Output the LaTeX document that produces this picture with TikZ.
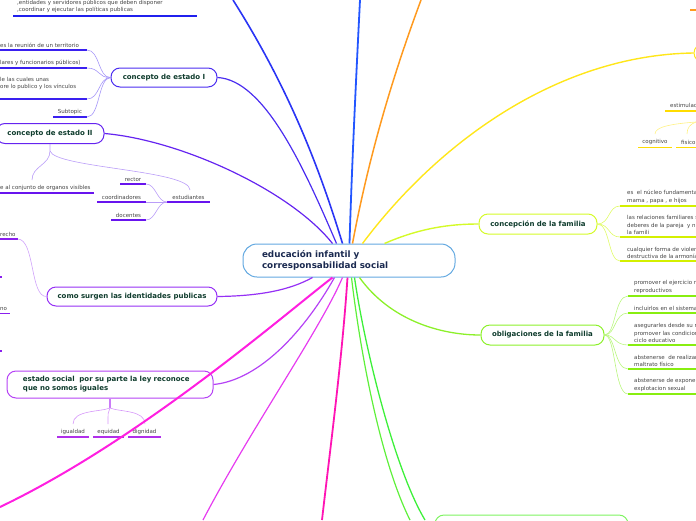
\documentclass[tikz,border=0pt]{standalone}
\usepackage{fontspec}
\setmainfont{DejaVu Sans}
\definecolor{txt}{HTML}{444444}
\definecolor{ntxt}{HTML}{0E3B2C}
\definecolor{ctxt}{HTML}{1B2A50}
\definecolor{cblue}{HTML}{62A8E0}
\definecolor{bla}{HTML}{2A35F5}
\definecolor{blb}{HTML}{2356FF}
\definecolor{orb}{HTML}{FF9A1F}
\definecolor{yeb}{HTML}{FFE61A}
\definecolor{ygb}{HTML}{D4FA28}
\definecolor{gra}{HTML}{5EF03A}
\definecolor{grb}{HTML}{3DF03A}
\definecolor{grc}{HTML}{8CF02A}
\definecolor{pua}{HTML}{4B2DF0}
\definecolor{pub}{HTML}{6524F0}
\definecolor{puc}{HTML}{9530F5}
\definecolor{pud}{HTML}{B542F5}
\definecolor{mga}{HTML}{FF1FE0}
\definecolor{mgb}{HTML}{E63CF0}
\definecolor{pkb}{HTML}{FF14B4}
\definecolor{ulz}{HTML}{2020EE}
\definecolor{ula}{HTML}{3A20F0}
\definecolor{ulb}{HTML}{6814EE}
\definecolor{ulc}{HTML}{8A1FEE}
\definecolor{uld}{HTML}{B030EA}
\definecolor{ule}{HTML}{D4F000}
\definecolor{ulf}{HTML}{88EE10}
\definecolor{ulg}{HTML}{FFDC00}
\begin{document}
\begin{tikzpicture}[x=1pt,y=-1pt,
  every node/.style={font=\fontsize{5.5}{7.2}\selectfont, text=txt},
  leaf/.style={anchor=south west, inner sep=0pt, align=left},
  cleaf/.style={anchor=south, inner sep=0pt, align=center},
  topic/.style={draw, rounded corners=9pt, line width=1pt, font=\fontsize{7}{9}\selectfont\bfseries, text=ntxt, inner sep=0pt, align=center},
  cnode/.style={draw=cblue, line width=1pt, rounded corners=14pt, minimum height=33pt, text width=174pt, inner xsep=19pt, inner ysep=0pt, align=left, font=\fontsize{8.8}{11}\selectfont\bfseries, text=ctxt},
  ul/.style={line width=1.6pt},
  fan/.style={line width=0.6pt},
  br/.style={line width=1.2pt}]
\useasboundingbox (0,0) rectangle (696,520);

% main nodes
\node[cnode] (c) at (349,260.5) {educación infantil y\\corresponsabilidad social};
\node[topic, draw=pua, minimum width=106pt, minimum height=19pt] (n1) at (164,77.5) {concepto de estado I};
\node[topic, draw=pub, minimum width=108pt, minimum height=20pt] (n2) at (50,133.5) {concepto de estado II};
\node[topic, draw=puc, minimum width=170pt, minimum height=19pt] (n3) at (132,296.5) {como surgen las identidades publicas};
\node[topic, draw=pud, minimum height=27pt, text width=174pt, inner xsep=16pt, align=left] (n4) at (110,384.5) {estado social\ \ por su parte la ley reconoce\\que no somos iguales};
\node[topic, draw=ygb, minimum width=118pt, minimum height=20pt] (n5) at (538,224) {concepción de la familia};
\node[topic, draw=grc, minimum width=123pt, minimum height=20pt] (n6) at (542.5,335) {obligaciones de la familia};
\node[topic, draw=gra!80, minimum width=193pt, minimum height=24pt] (n7) at (531.5,527) {};
\node[topic, draw=yeb, minimum width=60pt, minimum height=18pt] (n8) at (724,53) {};

% off-picture ends
\coordinate (t1) at (233,0);
\coordinate (t2) at (360,0);
\coordinate (t3) at (421,0);
\coordinate (b1) at (0,507);
\coordinate (b2) at (203,520);
\coordinate (b3) at (322,520);
\coordinate (b4) at (410,520);
\coordinate (b5) at (425,520);

% main branches
\draw[br, bla, line width=1.6pt] ([xshift=100pt]c.north west) .. controls (320,170) and (290,90) .. (t1);
\draw[br, pua] (n1.east) .. controls (265,80) and (305,170) .. ([xshift=94pt]c.north west);
\draw[br, pub] (n2.east) .. controls (180,140) and (290,190) .. ([xshift=90pt]c.north west);
\draw[br, blb, line width=1.8pt] ([xshift=107pt]c.north west) .. controls (352,160) and (357,60) .. (t2);
\draw[br, orb, line width=1.5pt] ([xshift=110pt]c.north west) .. controls (370,150) and (395,70) .. (t3);
\draw[br, yeb, line width=1.4pt] ([xshift=120pt]c.north west) .. controls (440,140) and (560,55) .. (n8.west);
\draw[br, ygb, line width=1.4pt] ([xshift=142pt]c.north west) .. controls (420,228) and (450,224) .. (n5.west);
\draw[br, puc] (n3.east) .. controls (260,296) and (290,290) .. ([xshift=70pt]c.south west);
\draw[br, pud] (n4.east) .. controls (260,380) and (305,330) .. ([xshift=92pt]c.south west);
\draw[br, mgb] ([xshift=100pt]c.south west) .. controls (320,330) and (250,430) .. (b2);
\draw[br, pkb, line width=1.8pt] ([xshift=105pt]c.south west) .. controls (342,360) and (330,450) .. (b3);
\draw[br, gra] ([xshift=109pt]c.south west) .. controls (360,350) and (380,460) .. (b4);
\draw[br, grb, line width=1.3pt] ([xshift=112pt]c.south west) .. controls (365,350) and (395,470) .. (b5);
\draw[br, grc, line width=1.3pt] ([xshift=117pt]c.south west) .. controls (390,320) and (440,335) .. (n6.west);

% top-left leaf
\node[leaf] (z1) at (17,13.2) {,entidades y servidores públicos que deben disponer\\,coordinar y ejecutar las políticas publicas};
\draw[ul, ulz] (13,15.8) -- (197,15.8);

% concepto de estado I children
\node[leaf] (a1) at (0,47.5) {es la reunión de un territorio};
\node[leaf] (a2) at (0,65.5) {lares y funcionarios públicos)};
\node[leaf] (a3) at (0,90) {le las cuales unas\\ore lo publico y los vínculos};
\node[cleaf] (a4) at (70,114.5) {Subtopic};
\coordinate (a1e) at (87,50);
\coordinate (a2e) at (87,68);
\coordinate (a3e) at (87,99);
\coordinate (a4e) at (87,117);
\draw[ul, ula] (0,50) -- (a1e);
\draw[ul, ula] (0,68) -- (a2e);
\draw[ul, ula] (0,99) -- (a3e);
\draw[ul, ula] (53,117) -- (a4e);
\draw[fan, pua!50] (n1.west) .. controls (98,78) and (100,50) .. (a1e);
\draw[fan, pua!50] (n1.west) .. controls (98,78) and (100,68) .. (a2e);
\draw[fan, pua!50] (n1.west) .. controls (98,78) and (100,99) .. (a3e);
\draw[fan, pua!50] (n1.west) .. controls (98,78) and (100,117) .. (a4e);

% concepto de estado II children
\node[leaf] (e1) at (0,190.5) {e al conjunto de organos visibles};
\draw[ul, ulb] (0,193) -- (94,193);
\node[cleaf] (e2) at (188.5,199.5) {estudiantes};
\coordinate (e2w) at (167,202);
\draw[ul, ulb] (e2w) -- (210,202);
\coordinate (e1t) at (32,180);
\coordinate (e2t) at (190,190);
\coordinate (n2j) at (50,151);
\draw[fan, pub!45] (n2.south) -- (n2j) .. controls (50,165) and (32,166) .. (e1t);
\draw[fan, pub!45] (n2j) .. controls (55,168) and (190,170) .. (e2t);
\node[cleaf] (r1) at (133,181.5) {rector};
\node[cleaf] (r2) at (121.5,199.5) {coordinadores};
\node[cleaf] (r3) at (128.5,217.5) {docentes};
\coordinate (r1e) at (146,184);
\coordinate (r2e) at (146,202);
\coordinate (r3e) at (146,220);
\draw[ul, ulb] (120,184) -- (r1e);
\draw[ul, ulb] (97,202) -- (r2e);
\draw[ul, ulb] (111,220) -- (r3e);
\draw[fan, pub!45] (e2w) .. controls (157,202) and (156,184) .. (r1e);
\draw[fan, pub!45] (e2w) -- (r2e);
\draw[fan, pub!45] (e2w) .. controls (157,202) and (156,220) .. (r3e);

% como surgen children
\node[leaf] (s1) at (0,236.5) {recho};
\coordinate (s1e) at (18,239);
\draw[ul, ulc] (0,239) -- (s1e);
\draw[ul, ulc] (0,277) -- (2,277);
\node[leaf] (s2) at (0,311) {no};
\draw[ul, ulc] (0,313.5) -- (10,313.5);
\draw[ul, ulc] (0,351) -- (2,351);
\draw[fan, puc!45] (n3.west) .. controls (30,297) and (35,240) .. (s1e);

% estado social children
\node[cleaf] (g1) at (73,434.5) {igualdad};
\node[cleaf] (g2) at (108.5,434.5) {equidad};
\node[cleaf] (g3) at (144.5,434.5) {dignidad};
\draw[ul, uld] (57,437) -- (89,437);
\draw[ul, uld] (93,437) -- (124,437);
\draw[ul, uld] (128,437) -- (161,437);
\coordinate (n4j) at (110,408);
\draw[line width=1.2pt, pud!70] (n4.south) -- (n4j);
\draw[fan, pud!55] (n4j) .. controls (100,412) and (73,410) .. (73,424);
\draw[fan, pud!55] (n4j) .. controls (108,412) .. (108,424);
\draw[fan, pud!55] (n4j) .. controls (120,412) and (145,410) .. (145,424);

% concepcion de la familia children
\node[leaf] (f1) at (627,203.5) {es\ \ el núcleo fundamenta\\mama , papa , e hijos};
\node[leaf] (f2) at (627,234.5) {las relaciones familiares s\\deberes de la pareja\ \ y n\\la famili};
\node[leaf] (f3) at (627,258.5) {cualquier forma de violen\\destructiva de la armonía};
\coordinate (f1e) at (620,206);
\coordinate (f2e) at (620,237);
\coordinate (f3e) at (620,261);
\draw[ul, ule] (f1e) -- (696,206);
\draw[ul, ule] (f2e) -- (696,237);
\draw[ul, ule] (f3e) -- (696,261);
\draw[fan, ygb!70] (n5.east) .. controls (610,224) and (608,206) .. (f1e);
\draw[fan, ygb!70] (n5.east) .. controls (610,224) and (608,237) .. (f2e);
\draw[fan, ygb!70] (n5.east) .. controls (610,224) and (608,261) .. (f3e);

% obligaciones de la familia children
\node[leaf] (o1) at (634,293.5) {promover el ejercicio r\\reproductivos};
\node[leaf] (o2) at (634,310.5) {incluirlos en el sistema};
\node[leaf] (o3) at (634,342.5) {asegurarles desde su n\\promover las condicion\\ciclo educativo};
\node[leaf] (o4) at (634,366.5) {abstenerse\ \ de realizar\\maltrato físico};
\node[leaf] (o5) at (634,391.5) {abstenerse de exponer\\explotacion sexual};
\coordinate (o1e) at (628,296);
\coordinate (o2e) at (628,313);
\coordinate (o3e) at (628,345);
\coordinate (o4e) at (628,369);
\coordinate (o5e) at (628,394);
\draw[ul, ulf] (o1e) -- (696,296);
\draw[ul, ulf] (o2e) -- (696,313);
\draw[ul, ulf] (o3e) -- (696,345);
\draw[ul, ulf] (o4e) -- (696,369);
\draw[ul, ulf] (o5e) -- (696,394);
\draw[fan, grc!60] (n6.east) .. controls (616,335) and (614,296) .. (o1e);
\draw[fan, grc!60] (n6.east) .. controls (616,335) and (614,313) .. (o2e);
\draw[fan, grc!60] (n6.east) .. controls (616,335) and (614,345) .. (o3e);
\draw[fan, grc!60] (n6.east) .. controls (616,335) and (614,369) .. (o4e);
\draw[fan, grc!60] (n6.east) .. controls (616,335) and (614,394) .. (o5e);

% estimulacion (right edge)
\node[leaf] (m1) at (670,108) {estimulac};
\draw[ul, ulg] (665,110.7) -- (696,110.7);
\coordinate (mp) at (696,122);
\node[cleaf] (m2) at (655,144.5) {cognitivo};
\node[leaf] (m3) at (681,144.5) {fisico};
\draw[ul, ulg] (638,147.5) -- (672,147.5);
\draw[ul, ulg] (676,147.5) -- (696,147.5);
\draw[fan, yeb!55] (mp) .. controls (670,124) and (655,127) .. (655,134);
\draw[fan, yeb!55] (mp) .. controls (690,124) and (687,128) .. (687,134);

% orange fragment top right
\draw[ul, orb] (690,10) -- (696,10);

% thick magenta branch drawn over the estado social box
\draw[br, mga, line width=2pt] ([xshift=90pt]c.south west) .. controls (280,318) and (140,440) .. (b1);
\end{tikzpicture}
\end{document}
